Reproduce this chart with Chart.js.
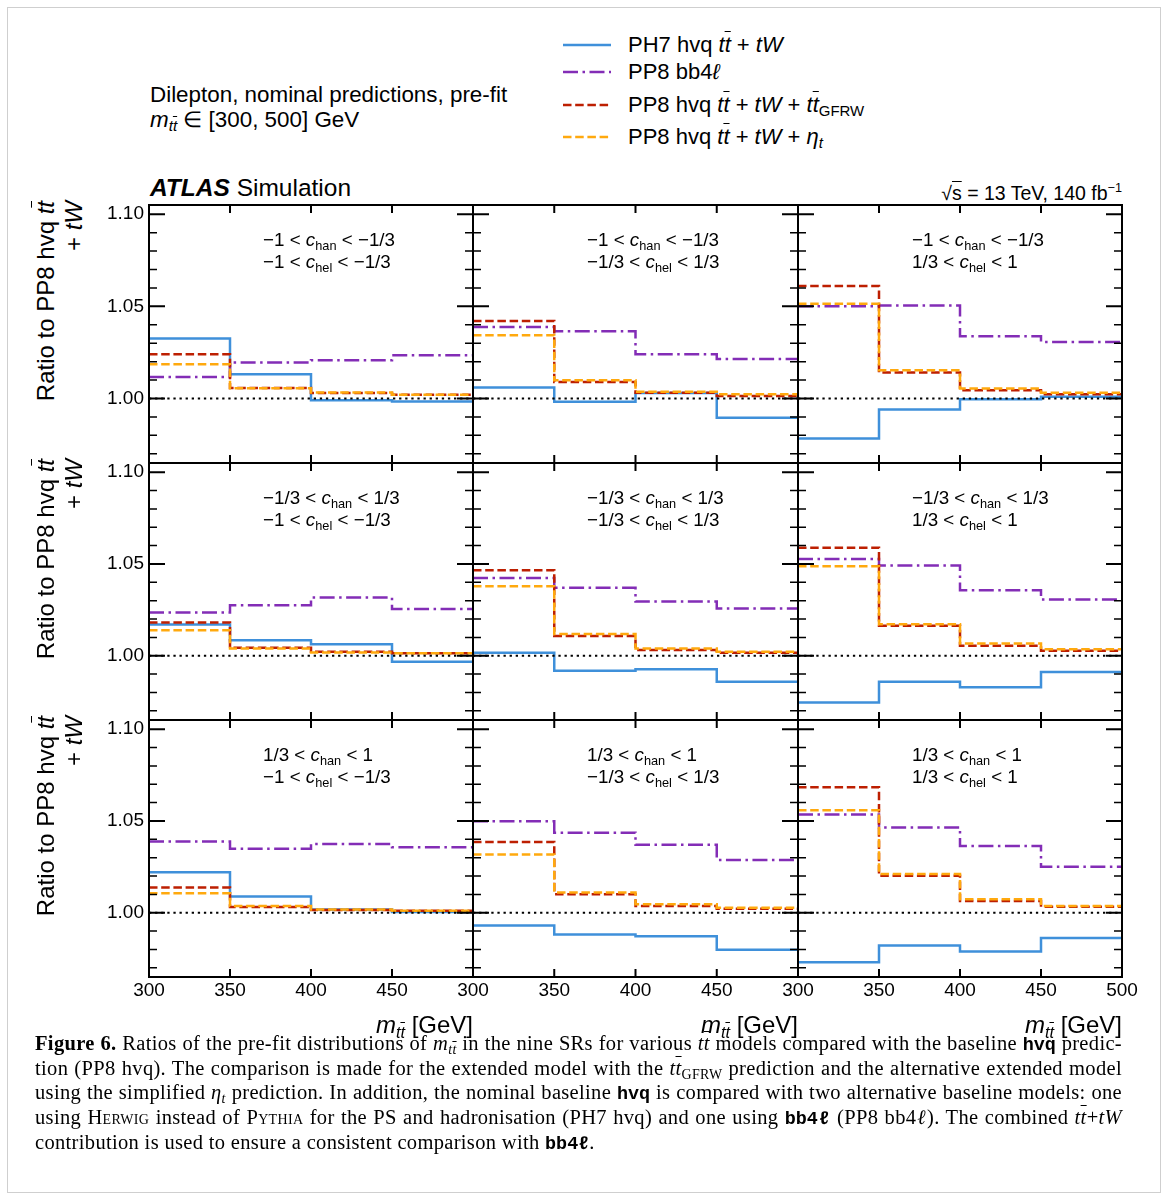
<!DOCTYPE html>
<html>
<head>
<meta charset="utf-8">
<script src="https://cdn.jsdelivr.net/npm/chart.js@4.4.1/dist/chart.umd.min.js"></script>
<style>
  body { margin: 0; background: #fff; width: 1165px; height: 1198px; position: relative; overflow: hidden;
         font-family: "Liberation Sans", Arial, sans-serif; color: #000; }
  .abs { position: absolute; white-space: nowrap; }
  .pageframe { position: absolute; left: 7px; top: 7px; width: 1152px; height: 1184px; border: 1px solid #cfcfcf; }
  sub { font-size: 0.68em; vertical-align: -0.28em; line-height: 0; }
  .ov { text-decoration: overline; text-decoration-thickness: 1px; }
  .ylab { position: absolute; width: 262px; text-align: right; transform: rotate(-90deg); transform-origin: 0 0;
          font-size: 24px; line-height: 28px; white-space: nowrap; }
  .plab { position: absolute; font-size: 18.8px; line-height: 22px; white-space: nowrap; }
  .xlab { position: absolute; font-size: 24px; line-height: 28px; white-space: nowrap; text-align: right; }
  #caption { position: absolute; left: 35px; top: 1031px; width: 1087px; font-family: "Liberation Serif", "Times New Roman", serif;
             font-size: 20.5px; letter-spacing: 0.33px; line-height: 24.7px; }
  #caption .cl { text-align: justify; text-align-last: justify; height: 24.7px; white-space: nowrap; }
  #caption .cl.last { text-align-last: left; }
  .tt { font-family: "Liberation Mono", "DejaVu Sans Mono", monospace; font-weight: bold; font-size: 0.9em; letter-spacing: 0; }
  .sc { font-variant: small-caps; }
</style>
</head>
<body>
<div class="pageframe"></div>

<!-- legend -->
<svg class="abs" style="left:563px; top:42px" width="48" height="6"><line x1="0" y1="3" x2="48" y2="3" stroke="#3f90da" stroke-width="2.5"/></svg>
<svg class="abs" style="left:563px; top:69px" width="48" height="6"><line x1="0" y1="3" x2="48" y2="3" stroke="#832db6" stroke-width="2.5" stroke-dasharray="15 4.5 2.5 4.5"/></svg>
<svg class="abs" style="left:563px; top:102px" width="48" height="6"><line x1="0" y1="3" x2="48" y2="3" stroke="#bd1f01" stroke-width="2.5" stroke-dasharray="8.5 3.7"/></svg>
<svg class="abs" style="left:563px; top:134px" width="48" height="6"><line x1="0" y1="3" x2="48" y2="3" stroke="#ffa90e" stroke-width="2.5" stroke-dasharray="8.5 3.7"/></svg>
<div class="abs" style="left:628px; top:32px; font-size:22px; line-height:26px">PH7 hvq <i>t<span class="ov">t</span></i> + <i>tW</i></div>
<div class="abs" style="left:628px; top:59px; font-size:22px; line-height:26px">PP8 bb4<i>ℓ</i></div>
<div class="abs" style="left:628px; top:92px; font-size:22px; line-height:26px">PP8 hvq <i>t<span class="ov">t</span></i> + <i>tW</i> + <i>t<span class="ov">t</span></i><sub>GFRW</sub></div>
<div class="abs" style="left:628px; top:124px; font-size:22px; line-height:26px">PP8 hvq <i>t<span class="ov">t</span></i> + <i>tW</i> + <i>η<sub>t</sub></i></div>

<div class="abs" style="left:150px; top:82px; font-size:22.4px; line-height:25px">Dilepton, nominal predictions, pre-fit<br><i>m</i><sub><i>t<span class="ov">t</span></i></sub> ∈ [300, 500] GeV</div>

<div class="abs" style="left:150px; top:173px; font-size:24.5px; line-height:30px"><b><i>ATLAS</i></b> Simulation</div>
<div class="abs" style="right:43px; top:175px; font-size:19.5px; line-height:26px">√<span style="text-decoration:overline">s</span> = 13 TeV, 140 fb<sup style="font-size:0.65em">−1</sup></div>

<div id="panels"></div>

<div class="xlab" style="right:692px; top:1011px"><i>m</i><sub><i>t<span class="ov">t</span></i></sub> [GeV]</div>
<div class="xlab" style="right:367px; top:1011px"><i>m</i><sub><i>t<span class="ov">t</span></i></sub> [GeV]</div>
<div class="xlab" style="right:43px; top:1011px"><i>m</i><sub><i>t<span class="ov">t</span></i></sub> [GeV]</div>

<div id="caption">
  <div class="cl"><b>Figure 6.</b> Ratios of the pre-fit distributions of <i>m</i><sub><i>t<span class="ov">t</span></i></sub> in the nine SRs for various <i>t<span class="ov">t</span></i> models compared with the baseline <span class="tt">hvq</span> predic-</div>
  <div class="cl">tion (PP8 hvq). The comparison is made for the extended model with the <i>t<span class="ov">t</span></i><sub>GFRW</sub> prediction and the alternative extended model</div>
  <div class="cl">using the simplified <i>η<sub>t</sub></i> prediction. In addition, the nominal baseline <span class="tt">hvq</span> is compared with two alternative baseline models: one</div>
  <div class="cl">using H<span class="sc">erwig</span> instead of P<span class="sc">ythia</span> for the PS and hadronisation (PH7 hvq) and one using <span class="tt">bb4ℓ</span> (PP8 bb4<i>ℓ</i>). The combined <i>t<span class="ov">t</span></i>+<i>tW</i></div>
  <div class="cl last">contribution is used to ensure a consistent comparison with <span class="tt">bb4ℓ</span>.</div>
</div>

<script>
// m_tt bin edges (GeV) and axis ticks
const binEdges = [300, 350, 400, 450, 500];
const yMajor = [1.00, 1.05, 1.10];
const yMinor = [0.97, 0.98, 0.99, 1.01, 1.02, 1.03, 1.04, 1.06, 1.07, 1.08, 1.09];
const refLine = 1.0;

// region labels: rows = c_han bins, columns = c_hel bins
const hanRanges = [['−1', '−1/3'], ['−1/3', '1/3'], ['1/3', '1']];
const helRanges = [['−1', '−1/3'], ['−1/3', '1/3'], ['1/3', '1']];

// ratio to PP8 hvq tt+tW, one row of 4 bins per panel (reading order)
const ph7Hvq = [
  [1.0325, 1.0132, 0.9991, 0.9984],
  [1.0060, 0.9982, 1.0030, 0.9895],
  [0.9783, 0.9940, 0.9996, 1.0009],
  [1.0170, 1.0085, 1.0063, 0.9967],
  [1.0016, 0.9918, 0.9926, 0.9859],
  [0.9746, 0.9859, 0.9828, 0.9911],
  [1.0220, 1.0088, 1.0018, 1.0004],
  [0.9930, 0.9881, 0.9872, 0.9799],
  [0.9731, 0.9821, 0.9789, 0.9863]
];
const pp8Bb4l = [
  [1.0117, 1.0195, 1.0208, 1.0235],
  [1.0388, 1.0365, 1.0240, 1.0215],
  [1.0500, 1.0505, 1.0338, 1.0307],
  [1.0236, 1.0275, 1.0317, 1.0254],
  [1.0424, 1.0370, 1.0295, 1.0257],
  [1.0527, 1.0491, 1.0357, 1.0306],
  [1.0388, 1.0348, 1.0375, 1.0357],
  [1.0498, 1.0436, 1.0370, 1.0288],
  [1.0535, 1.0465, 1.0363, 1.0251]
];
const pp8Gfrw = [
  [1.0240, 1.0057, 1.0030, 1.0020],
  [1.0421, 1.0090, 1.0031, 1.0013],
  [1.0610, 1.0141, 1.0045, 1.0023],
  [1.0181, 1.0043, 1.0022, 1.0013],
  [1.0466, 1.0107, 1.0031, 1.0016],
  [1.0589, 1.0163, 1.0054, 1.0027],
  [1.0137, 1.0031, 1.0015, 1.0011],
  [1.0385, 1.0101, 1.0037, 1.0022],
  [1.0683, 1.0201, 1.0064, 1.0033]
];
const pp8Eta = [
  [1.0186, 1.0055, 1.0032, 1.0020],
  [1.0343, 1.0099, 1.0036, 1.0023],
  [1.0514, 1.0153, 1.0054, 1.0031],
  [1.0139, 1.0040, 1.0018, 1.0013],
  [1.0379, 1.0118, 1.0040, 1.0022],
  [1.0487, 1.0172, 1.0067, 1.0036],
  [1.0106, 1.0037, 1.0018, 1.0011],
  [1.0317, 1.0110, 1.0046, 1.0027],
  [1.0559, 1.0211, 1.0073, 1.0037]
];

const colEdges = [149, 473, 798, 1122];
const rowEdges = [205, 463, 720, 977];
const M = { l: 60, r: 25, t: 10, b: 40 };
const tickFont = { family: '"Liberation Sans", Arial, sans-serif', size: 19 };

function histPoints(vals) {
  const pts = vals.map((v, i) => ({ x: binEdges[i], y: v }));
  pts.push({ x: binEdges[binEdges.length - 1], y: vals[vals.length - 1] });
  return pts;
}

function noPad(ax) {
  ax.paddingTop = 0; ax.paddingBottom = 0; ax.paddingLeft = 0; ax.paddingRight = 0;
}

// frame + inward ticks on all four sides
const frameTicks = {
  id: 'frameTicks',
  afterDatasetsDraw(chart) {
    const { ctx, chartArea: a, scales: { x, y } } = chart;
    ctx.save();
    ctx.strokeStyle = '#000';
    ctx.lineWidth = 2;
    ctx.beginPath();
    binEdges.forEach(v => {
      const px = x.getPixelForValue(v);
      ctx.moveTo(px, a.top); ctx.lineTo(px, a.top + 8);
      ctx.moveTo(px, a.bottom); ctx.lineTo(px, a.bottom - 8);
    });
    yMajor.forEach(v => {
      const py = y.getPixelForValue(v);
      ctx.moveTo(a.left, py); ctx.lineTo(a.left + 16, py);
      ctx.moveTo(a.right, py); ctx.lineTo(a.right - 16, py);
    });
    ctx.stroke();
    ctx.lineWidth = 1.5;
    ctx.beginPath();
    yMinor.forEach(v => {
      const py = y.getPixelForValue(v);
      ctx.moveTo(a.left, py); ctx.lineTo(a.left + 8, py);
      ctx.moveTo(a.right, py); ctx.lineTo(a.right - 8, py);
    });
    ctx.stroke();
    ctx.lineWidth = 2;
    ctx.strokeRect(a.left, a.top, a.right - a.left, a.bottom - a.top);
    ctx.restore();
  }
};

const holder = document.getElementById('panels');

for (let r = 0; r < 3; r++) {
  // y-axis title for this row
  const yl = document.createElement('div');
  yl.className = 'ylab';
  yl.style.left = '32px';
  yl.style.top = (rowEdges[r] - 4 + 262) + 'px';
  yl.innerHTML = 'Ratio to PP8 hvq <i>t<span class="ov">t</span></i><br>+ <i>tW</i>';
  document.body.appendChild(yl);

  for (let c = 0; c < 3; c++) {
    const p = r * 3 + c;
    const w = colEdges[c + 1] - colEdges[c];
    const h = rowEdges[r + 1] - rowEdges[r];

    const cv = document.createElement('canvas');
    cv.width = w + M.l + M.r;
    cv.height = h + M.t + M.b;
    cv.style.position = 'absolute';
    cv.style.left = (colEdges[c] - M.l) + 'px';
    cv.style.top = (rowEdges[r] - M.t) + 'px';
    cv.style.width = cv.width + 'px';
    cv.style.height = cv.height + 'px';
    holder.appendChild(cv);

    const lab = document.createElement('div');
    lab.className = 'plab';
    lab.style.left = (colEdges[c] + 114) + 'px';
    lab.style.top = (rowEdges[r] + 24) + 'px';
    lab.innerHTML = `${hanRanges[r][0]} &lt; <i>c</i><sub>han</sub> &lt; ${hanRanges[r][1]}<br>` +
                    `${helRanges[c][0]} &lt; <i>c</i><sub>hel</sub> &lt; ${helRanges[c][1]}`;
    holder.appendChild(lab);

    new Chart(cv, {
      type: 'line',
      data: {
        datasets: [
          { label: 'ref', data: [{ x: binEdges[0], y: refLine }, { x: binEdges[4], y: refLine }],
            borderColor: '#000', borderWidth: 2, borderDash: [2.3, 3.8], order: 0 },
          { label: 'PP8 hvq tt + tW + eta_t', data: histPoints(pp8Eta[p]), stepped: 'before',
            borderColor: '#ffa90e', borderWidth: 2.5, borderDash: [8.5, 3.7], order: 1 },
          { label: 'PP8 hvq tt + tW + tt GFRW', data: histPoints(pp8Gfrw[p]), stepped: 'before',
            borderColor: '#bd1f01', borderWidth: 2.5, borderDash: [8.5, 3.7], order: 2 },
          { label: 'PP8 bb4l', data: histPoints(pp8Bb4l[p]), stepped: 'before',
            borderColor: '#832db6', borderWidth: 2.5, borderDash: [15, 4.5, 2.5, 4.5], order: 3 },
          { label: 'PH7 hvq tt + tW', data: histPoints(ph7Hvq[p]), stepped: 'before',
            borderColor: '#3f90da', borderWidth: 2.5, order: 4 }
        ]
      },
      options: {
        responsive: false,
        animation: false,
        events: [],
        layout: { autoPadding: false, padding: { top: M.t, right: M.r, left: 0, bottom: 0 } },
        elements: { point: { radius: 0 }, line: { tension: 0, fill: false, borderCapStyle: 'butt', borderJoinStyle: 'miter' } },
        plugins: { legend: { display: false }, tooltip: { enabled: false } },
        scales: {
          x: {
            type: 'linear', min: 300, max: 500,
            grid: { display: false, drawTicks: false }, border: { display: false },
            afterBuildTicks: ax => { ax.ticks = binEdges.map(v => ({ value: v })); },
            afterFit: ax => { ax.height = M.b; noPad(ax); },
            ticks: { display: r === 2, padding: 2, autoSkip: false, maxRotation: 0, font: tickFont, color: '#000',
                     callback: v => (v === 500 && c < 2) ? '' : String(v) }
          },
          y: {
            type: 'linear', min: 0.965, max: 1.105,
            grid: { display: false, drawTicks: false }, border: { display: false },
            afterBuildTicks: ax => { ax.ticks = yMajor.map(v => ({ value: v })); },
            afterFit: ax => { ax.width = M.l; noPad(ax); },
            ticks: { display: c === 0, padding: 5, font: tickFont, color: '#000',
                     callback: v => Number(v).toFixed(2) }
          }
        }
      },
      plugins: [frameTicks]
    });
  }
}
</script>
</body>
</html>
